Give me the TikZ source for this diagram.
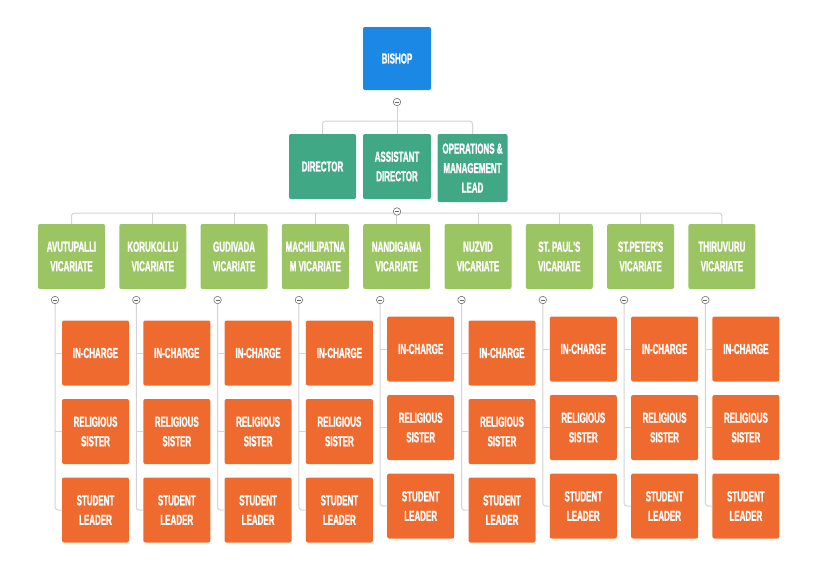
\documentclass[tikz,border=0pt]{standalone}
\usepackage{fontspec}
\usepackage{tikz}

\newfontfamily\boxfont{Liberation Sans}[FakeStretch=0.55, BoldFeatures={FakeBold=1.2}]

\definecolor{bishopblue}{RGB}{28,136,230}
\definecolor{staffteal}{RGB}{65,168,134}
\definecolor{vicargreen}{RGB}{155,196,98}
\definecolor{memberorange}{RGB}{239,106,46}
\definecolor{linkgray}{RGB}{212,212,212}

\tikzset{
  box/.style={rounded corners=2pt, text=white, align=center, inner sep=0pt,
    minimum width=67pt, minimum height=65pt,
    font=\boxfont\bfseries\fontsize{14.5}{19.5}\selectfont},
  bishop/.style={box, fill=bishopblue, minimum width=68pt, minimum height=63pt},
  staff/.style={box, fill=staffteal},
  vicar/.style={box, fill=vicargreen},
  member/.style={box, fill=memberorange},
  link/.style={draw=linkgray, line width=1pt},
  toggle/.style={circle, draw=black!55, fill=white, inner sep=0pt, minimum size=7.5pt,
    line width=0.6pt,
    path picture={\draw[black!60, line width=0.6pt]
      ([xshift=-2pt]path picture bounding box.center) --
      ([xshift=2pt]path picture bounding box.center);}}
}

\begin{document}
\begin{tikzpicture}[x=1pt, y=-1pt]

\fill[white] (0,0) rectangle (817,581);
\useasboundingbox (0,0) rectangle (817,581);

% Bishop
\node[bishop] (bishop) at (397,58.5) {BISHOP};
\node[toggle] (bishop-t) at (397,102) {};
\coordinate (tbar) at (397,121);

% Director level
\node[staff] (dir) at (322.5,166.5) {DIRECTOR};
\node[staff, minimum width=68pt] (asst) at (397,166.5) {ASSISTANT\\DIRECTOR};
\node[staff, minimum width=70pt, minimum height=68pt] (ops) at (472.5,168) {OPERATIONS \&\\MANAGEMENT\\LEAD};

\draw[link] (bishop-t) -- (tbar);
\draw[link, rounded corners=3pt] (dir.north) |- (tbar) -| (ops.north);
\draw[link] (asst.north |- tbar) -- (asst.north);

% Vicariates
\coordinate (vbar) at (397,213);
\node[vicar] (avu) at (71.5,256.5) {AVUTUPALLI\\VICARIATE};
\node[vicar] (kor) at (152.8,256.5) {KORUKOLLU\\VICARIATE};
\node[vicar] (gud) at (234.1,256.5) {GUDIVADA\\VICARIATE};
\node[vicar] (mac) at (315.4,256.5) {MACHILIPATNA\\M VICARIATE};
\node[vicar] (nan) at (396.7,256.5) {NANDIGAMA\\VICARIATE};
\node[vicar] (nuz) at (478,256.5) {NUZVID\\VICARIATE};
\node[vicar] (pau) at (559.3,256.5) {ST. PAUL'S\\VICARIATE};
\node[vicar] (pet) at (640.6,256.5) {ST.PETER'S\\VICARIATE};
\node[vicar] (thi) at (721.9,256.5) {THIRUVURU\\VICARIATE};

\draw[link, rounded corners=3pt] (avu.north) |- (vbar) -| (thi.north);
\draw[link] (kor.north |- vbar) -- (kor.north);
\draw[link] (gud.north |- vbar) -- (gud.north);
\draw[link] (mac.north |- vbar) -- (mac.north);
\draw[link] (nan.north |- vbar) -- (nan.north);
\draw[link] (nuz.north |- vbar) -- (nuz.north);
\draw[link] (pau.north |- vbar) -- (pau.north);
\draw[link] (pet.north |- vbar) -- (pet.north);
\node[toggle] (asst-t) at (397,211.5) {};

% Avutupalli
\node[toggle] (avu-t) at (55,300) {};
\node[member] (avu-ic) at (95.5,353) {IN-CHARGE};
\node[member] (avu-rs) at (95.5,431.5) {RELIGIOUS\\SISTER};
\node[member] (avu-sl) at (95.5,510) {STUDENT\\LEADER};
\draw[link, rounded corners=3pt] (avu-t) |- (avu-sl);
\draw[link] (avu-t |- avu-ic) -- (avu-ic);
\draw[link] (avu-t |- avu-rs) -- (avu-rs);

% Korukollu
\node[toggle] (kor-t) at (136.3,300) {};
\node[member] (kor-ic) at (176.8,353) {IN-CHARGE};
\node[member] (kor-rs) at (176.8,431.5) {RELIGIOUS\\SISTER};
\node[member] (kor-sl) at (176.8,510) {STUDENT\\LEADER};
\draw[link, rounded corners=3pt] (kor-t) |- (kor-sl);
\draw[link] (kor-t |- kor-ic) -- (kor-ic);
\draw[link] (kor-t |- kor-rs) -- (kor-rs);

% Gudivada
\node[toggle] (gud-t) at (217.6,300) {};
\node[member] (gud-ic) at (258.1,353) {IN-CHARGE};
\node[member] (gud-rs) at (258.1,431.5) {RELIGIOUS\\SISTER};
\node[member] (gud-sl) at (258.1,510) {STUDENT\\LEADER};
\draw[link, rounded corners=3pt] (gud-t) |- (gud-sl);
\draw[link] (gud-t |- gud-ic) -- (gud-ic);
\draw[link] (gud-t |- gud-rs) -- (gud-rs);

% Machilipatnam
\node[toggle] (mac-t) at (298.9,300) {};
\node[member] (mac-ic) at (339.4,353) {IN-CHARGE};
\node[member] (mac-rs) at (339.4,431.5) {RELIGIOUS\\SISTER};
\node[member] (mac-sl) at (339.4,510) {STUDENT\\LEADER};
\draw[link, rounded corners=3pt] (mac-t) |- (mac-sl);
\draw[link] (mac-t |- mac-ic) -- (mac-ic);
\draw[link] (mac-t |- mac-rs) -- (mac-rs);

% Nandigama
\node[toggle] (nan-t) at (380.2,300) {};
\node[member] (nan-ic) at (420.7,349) {IN-CHARGE};
\node[member] (nan-rs) at (420.7,427.5) {RELIGIOUS\\SISTER};
\node[member] (nan-sl) at (420.7,506) {STUDENT\\LEADER};
\draw[link, rounded corners=3pt] (nan-t) |- (nan-sl);
\draw[link] (nan-t |- nan-ic) -- (nan-ic);
\draw[link] (nan-t |- nan-rs) -- (nan-rs);

% Nuzvid
\node[toggle] (nuz-t) at (461.5,300) {};
\node[member] (nuz-ic) at (502,353) {IN-CHARGE};
\node[member] (nuz-rs) at (502,431.5) {RELIGIOUS\\SISTER};
\node[member] (nuz-sl) at (502,510) {STUDENT\\LEADER};
\draw[link, rounded corners=3pt] (nuz-t) |- (nuz-sl);
\draw[link] (nuz-t |- nuz-ic) -- (nuz-ic);
\draw[link] (nuz-t |- nuz-rs) -- (nuz-rs);

% St. Paul's
\node[toggle] (pau-t) at (542.8,300) {};
\node[member] (pau-ic) at (583.3,349) {IN-CHARGE};
\node[member] (pau-rs) at (583.3,427.5) {RELIGIOUS\\SISTER};
\node[member] (pau-sl) at (583.3,506) {STUDENT\\LEADER};
\draw[link, rounded corners=3pt] (pau-t) |- (pau-sl);
\draw[link] (pau-t |- pau-ic) -- (pau-ic);
\draw[link] (pau-t |- pau-rs) -- (pau-rs);

% St. Peter's
\node[toggle] (pet-t) at (624.1,300) {};
\node[member] (pet-ic) at (664.6,349) {IN-CHARGE};
\node[member] (pet-rs) at (664.6,427.5) {RELIGIOUS\\SISTER};
\node[member] (pet-sl) at (664.6,506) {STUDENT\\LEADER};
\draw[link, rounded corners=3pt] (pet-t) |- (pet-sl);
\draw[link] (pet-t |- pet-ic) -- (pet-ic);
\draw[link] (pet-t |- pet-rs) -- (pet-rs);

% Thiruvuru
\node[toggle] (thi-t) at (705.4,300) {};
\node[member] (thi-ic) at (745.9,349) {IN-CHARGE};
\node[member] (thi-rs) at (745.9,427.5) {RELIGIOUS\\SISTER};
\node[member] (thi-sl) at (745.9,506) {STUDENT\\LEADER};
\draw[link, rounded corners=3pt] (thi-t) |- (thi-sl);
\draw[link] (thi-t |- thi-ic) -- (thi-ic);
\draw[link] (thi-t |- thi-rs) -- (thi-rs);

\end{tikzpicture}
\end{document}
